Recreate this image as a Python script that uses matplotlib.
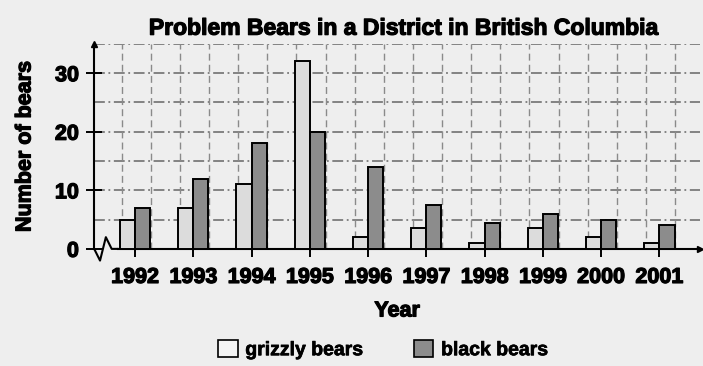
import numpy as np
import matplotlib.pyplot as plt
import matplotlib.patheffects as pe
from matplotlib.patches import Patch

years = ['1992', '1993', '1994', '1995', '1996', '1997', '1998', '1999', '2000', '2001']
grizzly = [5, 7, 11, 32, 2, 3.5, 1, 3.5, 2, 1]
black = [7, 12, 18, 20, 14, 7.5, 4.5, 6, 5, 4]

plt.rcParams['font.family'] = ['Liberation Sans', 'DejaVu Sans']
bg = '#eeeeee'
heavy = [pe.withStroke(linewidth=0.9, foreground='black')]

fig = plt.figure(figsize=(7.03, 3.66), dpi=100, facecolor=bg)
ax = fig.add_axes([0.134, 0.32, 0.862, 0.56], facecolor=bg)

x = np.arange(len(years))
w = 0.26
ax.bar(x - w / 2, grizzly, w, color='#dcdcdc', edgecolor='black', linewidth=1.4, zorder=3)
ax.bar(x + w / 2, black, w, color='#8c8c8c', edgecolor='black', linewidth=1.4, zorder=3)

# dashed grid
for yv in np.arange(5, 36, 5):
    ax.axhline(yv, color='#7a7a7a', lw=1.3, ls=(0, (6, 2, 1, 2)), zorder=1)
for xv in np.arange(-0.23, 9.8, 0.5):
    ax.axvline(xv, color='#8a8a8a', lw=1.0, ls=(0, (5, 3)), zorder=1)

ax.set_xlim(-0.7, 9.7)
ax.set_ylim(0, 35)
ax.set_xticks(x)
ax.set_xticklabels(years, fontsize=15.5, fontweight='bold', path_effects=heavy)
ax.set_yticks([0, 10, 20, 30])
ax.set_yticklabels(['0', '10', '20', '30'], fontsize=15.5, fontweight='bold', path_effects=heavy)
ax.tick_params(axis='x', length=6, width=1.4, colors='black', pad=7)
ax.tick_params(axis='y', direction='inout', length=12, width=1.4, colors='black', pad=5)

for s in ['top', 'right']:
    ax.spines[s].set_visible(False)
ax.spines['left'].set_linewidth(1.5)
ax.spines['bottom'].set_linewidth(1.5)
ax.spines['bottom'].set_bounds(-0.3, 9.7)

# axis arrows
ax.plot(0, 1, '^k', ms=5, transform=ax.transAxes, clip_on=False)
ax.plot(1, 0, '>k', ms=5, transform=ax.transAxes, clip_on=False)
# break symbol
ax.plot([-0.7, -0.6, -0.5, -0.4, -0.3], [0, -2, 2, 0, 0], color='black', lw=1.5, clip_on=False, zorder=4)

ax.set_xlabel('Year', fontsize=15.5, fontweight='bold', labelpad=9, path_effects=heavy)
ax.set_ylabel('Number of bears', fontsize=15.5, fontweight='bold', labelpad=14, path_effects=heavy)
fig.text(0.573, 0.923, 'Problem Bears in a District in British Columbia', ha='center', va='center',
         fontsize=16.5, fontweight='bold', path_effects=heavy)

handles = [Patch(facecolor='#f4f4f4', edgecolor='black', lw=1.2, label='grizzly bears'),
           Patch(facecolor='#8c8c8c', edgecolor='black', lw=1.2, label='black bears')]
leg = fig.legend(handles=handles, loc='center', bbox_to_anchor=(0.545, 0.045), ncol=2, frameon=False,
                 prop={'size': 14, 'weight': 'bold'}, handlelength=1.0, handleheight=1.0,
                 columnspacing=2.6, handletextpad=0.4)
for t in leg.get_texts():
    t.set_path_effects([pe.withStroke(linewidth=0.5, foreground='black')])

fig.savefig('out.png', dpi=100, facecolor=bg)
